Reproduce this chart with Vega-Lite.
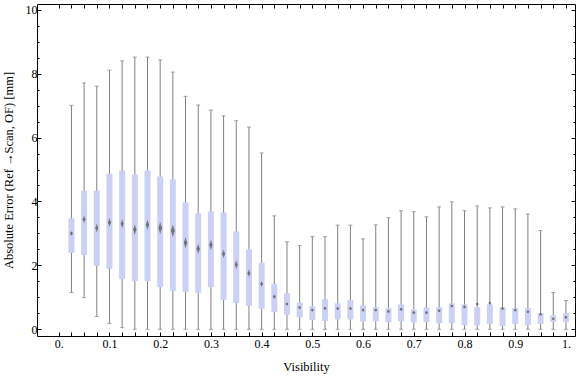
{
  "$schema": "https://vega.github.io/schema/vega-lite/v6.json",
  "width": 538,
  "height": 332,
  "autosize": "none",
  "padding": {"left": 37, "top": 4, "right": 1, "bottom": 41},
  "background": "white",
  "config": {
    "view": {"stroke": "black", "strokeWidth": 1},
    "font": "Liberation Serif",
    "axis": {
      "grid": false,
      "domain": false,
      "labelFont": "Liberation Serif",
      "titleFont": "Liberation Serif",
      "labelFontSize": 12,
      "titleFontSize": 12.5,
      "titleFontWeight": "normal",
      "labelColor": "black",
      "titleColor": "black",
      "tickColor": "black",
      "tickWidth": 1
    }
  },
  "data": {
    "values": [
      {"x": 0.025, "min": 1.15, "q1": 2.39, "mean": 3.0, "q3": 3.47, "max": 7.01, "ci": 0.08},
      {"x": 0.05, "min": 0.99, "q1": 2.32, "mean": 3.44, "q3": 4.34, "max": 7.71, "ci": 0.125},
      {"x": 0.075, "min": 0.4, "q1": 1.98, "mean": 3.17, "q3": 4.34, "max": 7.61, "ci": 0.14},
      {"x": 0.1, "min": 0.18, "q1": 1.89, "mean": 3.34, "q3": 4.87, "max": 8.11, "ci": 0.14},
      {"x": 0.125, "min": 0.05, "q1": 1.57, "mean": 3.3, "q3": 4.97, "max": 8.4, "ci": 0.14},
      {"x": 0.15, "min": 0, "q1": 1.51, "mean": 3.12, "q3": 4.84, "max": 8.52, "ci": 0.16},
      {"x": 0.175, "min": 0, "q1": 1.51, "mean": 3.27, "q3": 4.97, "max": 8.52, "ci": 0.16},
      {"x": 0.2, "min": 0, "q1": 1.32, "mean": 3.17, "q3": 4.78, "max": 8.43, "ci": 0.19},
      {"x": 0.225, "min": 0, "q1": 1.2, "mean": 3.08, "q3": 4.69, "max": 8.05, "ci": 0.2},
      {"x": 0.25, "min": 0, "q1": 1.17, "mean": 2.71, "q3": 3.97, "max": 7.29, "ci": 0.17},
      {"x": 0.275, "min": 0, "q1": 1.14, "mean": 2.52, "q3": 3.63, "max": 7.02, "ci": 0.16},
      {"x": 0.3, "min": 0, "q1": 1.32, "mean": 2.64, "q3": 3.69, "max": 6.86, "ci": 0.16},
      {"x": 0.325, "min": 0, "q1": 0.92, "mean": 2.36, "q3": 3.66, "max": 6.68, "ci": 0.14},
      {"x": 0.35, "min": 0, "q1": 0.82, "mean": 2.02, "q3": 3.06, "max": 6.53, "ci": 0.14},
      {"x": 0.375, "min": 0, "q1": 0.73, "mean": 1.75, "q3": 2.5, "max": 6.33, "ci": 0.125},
      {"x": 0.4, "min": 0, "q1": 0.64, "mean": 1.42, "q3": 2.08, "max": 5.52, "ci": 0.094},
      {"x": 0.425, "min": 0, "q1": 0.54, "mean": 1.02, "q3": 1.41, "max": 3.55, "ci": 0.08},
      {"x": 0.45, "min": 0, "q1": 0.45, "mean": 0.79, "q3": 1.125, "max": 2.74, "ci": 0.06},
      {"x": 0.475, "min": 0, "q1": 0.375, "mean": 0.68, "q3": 0.84, "max": 2.62, "ci": 0.06},
      {"x": 0.5, "min": 0, "q1": 0.29, "mean": 0.6, "q3": 0.72, "max": 2.9, "ci": 0.05},
      {"x": 0.525, "min": 0, "q1": 0.26, "mean": 0.66, "q3": 0.94, "max": 2.9, "ci": 0.05},
      {"x": 0.55, "min": 0, "q1": 0.31, "mean": 0.65, "q3": 0.81, "max": 3.26, "ci": 0.05},
      {"x": 0.575, "min": 0, "q1": 0.31, "mean": 0.65, "q3": 0.91, "max": 3.26, "ci": 0.05},
      {"x": 0.6, "min": 0, "q1": 0.25, "mean": 0.6, "q3": 0.75, "max": 2.83, "ci": 0.05},
      {"x": 0.625, "min": 0, "q1": 0.25, "mean": 0.6, "q3": 0.69, "max": 3.27, "ci": 0.05},
      {"x": 0.65, "min": 0, "q1": 0.22, "mean": 0.56, "q3": 0.66, "max": 3.49, "ci": 0.05},
      {"x": 0.675, "min": 0, "q1": 0.25, "mean": 0.625, "q3": 0.78, "max": 3.71, "ci": 0.05},
      {"x": 0.7, "min": 0, "q1": 0.22, "mean": 0.52, "q3": 0.625, "max": 3.68, "ci": 0.05},
      {"x": 0.725, "min": 0, "q1": 0.22, "mean": 0.52, "q3": 0.68, "max": 3.52, "ci": 0.05},
      {"x": 0.75, "min": 0, "q1": 0.19, "mean": 0.58, "q3": 0.69, "max": 3.83, "ci": 0.05},
      {"x": 0.775, "min": 0, "q1": 0.19, "mean": 0.73, "q3": 0.81, "max": 3.99, "ci": 0.05},
      {"x": 0.8, "min": 0, "q1": 0.125, "mean": 0.7, "q3": 0.78, "max": 3.71, "ci": 0.05},
      {"x": 0.825, "min": 0, "q1": 0.125, "mean": 0.79, "q3": 0.69, "max": 3.86, "ci": 0.05},
      {"x": 0.85, "min": 0, "q1": 0.17, "mean": 0.82, "q3": 0.78, "max": 3.8, "ci": 0.05},
      {"x": 0.875, "min": 0, "q1": 0.1, "mean": 0.65, "q3": 0.69, "max": 3.83, "ci": 0.05},
      {"x": 0.9, "min": 0, "q1": 0.17, "mean": 0.6, "q3": 0.66, "max": 3.77, "ci": 0.05},
      {"x": 0.925, "min": 0, "q1": 0.14, "mean": 0.55, "q3": 0.66, "max": 3.61, "ci": 0.05},
      {"x": 0.95, "min": 0, "q1": 0.17, "mean": 0.47, "q3": 0.5, "max": 3.09, "ci": 0.04},
      {"x": 0.975, "min": 0, "q1": 0.23, "mean": 0.33, "q3": 0.44, "max": 1.15, "ci": 0.02},
      {"x": 1.0, "min": 0, "q1": 0.23, "mean": 0.375, "q3": 0.5, "max": 0.9, "ci": 0.02}
    ]
  },
  "resolve": {"axis": {"x": "independent", "y": "independent"}},
  "layer": [
    {
      "mark": {"type": "rule", "color": "#808080", "strokeWidth": 1},
      "encoding": {
        "x": {
          "field": "x", "type": "quantitative",
          "scale": {"domain": [-0.033, 1.008], "nice": false, "zero": false},
          "axis": {
            "orient": "bottom",
            "title": "Visibility",
            "values": [0, 0.025, 0.05, 0.075, 0.1, 0.125, 0.15, 0.175, 0.2, 0.225, 0.25, 0.275, 0.3, 0.325, 0.35, 0.375, 0.4, 0.425, 0.45, 0.475, 0.5, 0.525, 0.55, 0.575, 0.6, 0.625, 0.65, 0.675, 0.7, 0.725, 0.75, 0.775, 0.8, 0.825, 0.85, 0.875, 0.9, 0.925, 0.95, 0.975, 1.0],
            "labelExpr": "(round(datum.value*1000) % 100 == 0) ? (datum.value == 0 ? '0.' : (datum.value == 1 ? '1.' : format(datum.value, '.1f'))) : ''",
            "tickSize": -4,
            "labelPadding": 6,
            "labelFlush": false,
            "labelOverlap": false,
            "titlePadding": 11
          }
        },
        "y": {
          "field": "min", "type": "quantitative",
          "scale": {"domain": [-0.21, 10.18], "nice": false, "zero": false},
          "axis": {
            "orient": "left",
            "title": "Absolute Error (Ref →Scan, OF) [mm]",
            "values": [0, 2, 4, 6, 8, 10],
            "tickSize": -4,
            "labelPadding": 4,
            "labelFlush": false,
            "labelOverlap": false,
            "titlePadding": 10
          }
        },
        "y2": {"field": "max"}
      }
    },
    {
      "mark": {"type": "tick", "orient": "horizontal", "color": "#808080", "thickness": 1, "size": 4},
      "encoding": {
        "x": {
          "field": "x", "type": "quantitative",
          "axis": {
            "orient": "top",
            "title": null,
            "labels": false,
            "values": [0, 0.025, 0.05, 0.075, 0.1, 0.125, 0.15, 0.175, 0.2, 0.225, 0.25, 0.275, 0.3, 0.325, 0.35, 0.375, 0.4, 0.425, 0.45, 0.475, 0.5, 0.525, 0.55, 0.575, 0.6, 0.625, 0.65, 0.675, 0.7, 0.725, 0.75, 0.775, 0.8, 0.825, 0.85, 0.875, 0.9, 0.925, 0.95, 0.975, 1.0],
            "tickSize": -4
          }
        },
        "y": {
          "field": "max", "type": "quantitative",
          "axis": {
            "orient": "right",
            "title": null,
            "labels": false,
            "values": [0, 2, 4, 6, 8, 10],
            "tickSize": -4
          }
        }
      }
    },
    {
      "mark": {"type": "tick", "orient": "horizontal", "color": "#808080", "thickness": 1, "size": 4},
      "encoding": {
        "x": {"field": "x", "type": "quantitative", "axis": null},
        "y": {
          "field": "min", "type": "quantitative",
          "axis": {
            "orient": "left",
            "title": null,
            "labels": false,
            "values": [0, 0.5, 1, 1.5, 2, 2.5, 3, 3.5, 4, 4.5, 5, 5.5, 6, 6.5, 7, 7.5, 8, 8.5, 9, 9.5, 10],
            "tickSize": -2
          }
        }
      }
    },
    {
      "mark": {"type": "bar", "color": "#cad1f5", "size": 6},
      "encoding": {
        "x": {"field": "x", "type": "quantitative", "axis": null},
        "y": {
          "field": "q1", "type": "quantitative",
          "axis": {
            "orient": "right",
            "title": null,
            "labels": false,
            "values": [0, 0.5, 1, 1.5, 2, 2.5, 3, 3.5, 4, 4.5, 5, 5.5, 6, 6.5, 7, 7.5, 8, 8.5, 9, 9.5, 10],
            "tickSize": -2
          }
        },
        "y2": {"field": "q3"}
      }
    },
    {
      "mark": {"type": "point", "shape": "circle", "filled": true, "color": "#6e6e6e", "size": 7, "opacity": 0.9},
      "encoding": {
        "x": {"field": "x", "type": "quantitative", "axis": null},
        "y": {"field": "mean", "type": "quantitative", "axis": null}
      }
    },
    {
      "mark": {"type": "point", "shape": "M0,-1L0.32,0L0,1L-0.32,0Z", "filled": true, "color": "#6e6e6e", "opacity": 0.85},
      "encoding": {
        "x": {"field": "x", "type": "quantitative", "axis": null},
        "y": {"field": "mean", "type": "quantitative", "axis": null},
        "size": {
          "field": "ci", "type": "quantitative",
          "scale": {"type": "pow", "exponent": 2, "domain": [0, 1], "range": [0, 4096]},
          "legend": null
        }
      }
    }
  ]
}
